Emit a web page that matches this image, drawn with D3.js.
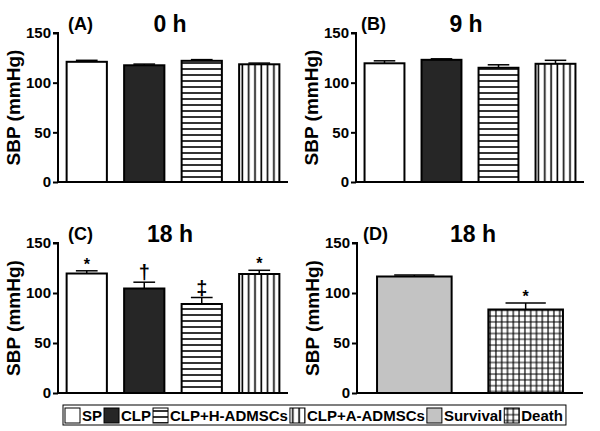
<!DOCTYPE html>
<html><head><meta charset="utf-8">
<script src="https://cdn.jsdelivr.net/npm/d3@7"></script>
<style>
body{margin:0;background:#fff;}
svg{display:block;font-family:"Liberation Sans",Arial,sans-serif;font-weight:bold;}
</style></head><body>
<svg id="chart" width="600" height="431"></svg>
<script>
// ---- data ----
const groups = ["SP","CLP","CLP+H-ADMSCs","CLP+A-ADMSCs"];
const outcomeGroups = ["Survival","Death"];
const valuesA = [121, 117.5, 122, 118.5];
const errA    = [1.5, 1.2, 1.2, 1.2];
const valuesB = [119.5, 123, 115, 119];
const errB    = [2.5, 1, 3, 3.5];
const valuesC = [119.5, 104.5, 89, 119];
const errC    = [2.7, 6.3, 6.5, 3.7];
const marksC  = ["*","†","‡","*"];
const valuesD = [116.5, 83.5];
const errD    = [1.5, 6.5];
const marksD  = ["", "*"];
const yTicks = [0, 50, 100, 150];
const panelLetters = ["(A)","(B)","(C)","(D)"];
const panelTimes = ["0 h","9 h","18 h","18 h"];
const legendItems = ["SP","CLP","CLP+H-ADMSCs","CLP+A-ADMSCs","Survival","Death"];
const yLabel = "SBP (mmHg)";

const svg = d3.select("#chart");
const defs = svg.append("defs");
// patterns
const ph = defs.append("pattern").attr("id","hstripe").attr("patternUnits","userSpaceOnUse")
  .attr("width",8).attr("height",6);
ph.append("rect").attr("width",8).attr("height",6).attr("fill","#fff");
ph.append("line").attr("x1",0).attr("x2",8).attr("y1",3).attr("y2",3).attr("stroke","#000").attr("stroke-width",1.6);
const pv = defs.append("pattern").attr("id","vstripe").attr("patternUnits","userSpaceOnUse")
  .attr("width",6.3).attr("height",8);
pv.append("rect").attr("width",6.3).attr("height",8).attr("fill","#fff");
pv.append("line").attr("x1",3).attr("x2",3).attr("y1",0).attr("y2",8).attr("stroke","#000").attr("stroke-width",1.6);
const pg = defs.append("pattern").attr("id","grid").attr("patternUnits","userSpaceOnUse")
  .attr("width",5.8).attr("height",5.8);
pg.append("rect").attr("width",5.8).attr("height",5.8).attr("fill","#fff");
pg.append("path").attr("d","M2.9,0V5.8M0,2.9H5.8").attr("stroke","#000").attr("stroke-width",1.2);

const fills = {"SP":"#fff","CLP":"#262626","CLP+H-ADMSCs":"url(#hstripe)","CLP+A-ADMSCs":"url(#vstripe)","Survival":"#c3c3c3","Death":"url(#grid)"};

function panel(cfg){
  const {x0,x1,yTop,yBot,cats,vals,errs,marks,letter,time,letterX,timeX,pi,po} = cfg;
  const g = svg.append("g");
  const y = d3.scaleLinear().domain([0,150]).range([yBot,yTop]);
  const x = d3.scaleBand().domain(cats).range([x0,x1]).paddingInner(pi).paddingOuter(po);
  // bars
  cats.forEach((c,i)=>{
    g.append("rect").attr("x",x(c)).attr("y",y(vals[i])).attr("width",x.bandwidth())
      .attr("height",y(0)-y(vals[i])).attr("fill",fills[c]).attr("stroke","#000").attr("stroke-width",2);
    const cx = x(c)+x.bandwidth()/2, cw = x.bandwidth()*0.27;
    const et = y(vals[i]+errs[i]);
    g.append("line").attr("x1",cx).attr("x2",cx).attr("y1",y(vals[i])).attr("y2",et).attr("stroke","#000").attr("stroke-width",1.5);
    g.append("line").attr("x1",cx-cw).attr("x2",cx+cw).attr("y1",et).attr("y2",et).attr("stroke","#000").attr("stroke-width",1.5);
    if(marks && marks[i]){
      const m = marks[i];
      g.append("text").attr("x",cx).attr("y", m==="*" ? et-1 : et-3).attr("text-anchor","middle")
        .attr("font-size", m==="*"?16:20).text(m);
    }
  });
  // axes
  const ya = g.append("g").attr("transform",`translate(${x0},0)`)
    .call(d3.axisLeft(y).tickValues(yTicks).tickSize(5).tickPadding(2));
  ya.attr("font-size",15).attr("font-family","Liberation Sans, Arial, sans-serif");
  ya.select(".domain").attr("stroke-width",2).attr("d",`M-5,${yTop}H0V${yBot}`);
  ya.selectAll(".tick line").attr("stroke-width",2);
  ya.selectAll(".tick text").style("font-size","15px").style("font-weight","bold").attr("fill","#000");
  g.append("line").attr("x1",x0-1).attr("x2",x1).attr("y1",yBot).attr("y2",yBot).attr("stroke","#000").attr("stroke-width",2);
  // titles
  g.append("text").attr("x",letterX).attr("y",yTop-3).attr("font-size",18).text(letter);
  g.append("text").attr("x",timeX).attr("y",yTop-1).attr("text-anchor","middle").attr("font-size",23).text(time);
  // y label
  g.append("text").attr("transform",`translate(${x0-38},${(yTop+yBot)/2}) rotate(-90)`)
    .attr("text-anchor","middle").attr("font-size",19).text(yLabel);
}

panel({x0:58,x1:288,yTop:33,yBot:182,cats:groups,vals:valuesA,errs:errA,marks:null,letter:panelLetters[0],time:panelTimes[0],letterX:68,timeX:170,pi:0.3,po:0.15});
panel({x0:356,x1:584,yTop:33,yBot:182,cats:groups,vals:valuesB,errs:errB,marks:null,letter:panelLetters[1],time:panelTimes[1],letterX:361,timeX:466,pi:0.3,po:0.15});
panel({x0:58,x1:288,yTop:243,yBot:393,cats:groups,vals:valuesC,errs:errC,marks:marksC,letter:panelLetters[2],time:panelTimes[2],letterX:68,timeX:170,pi:0.3,po:0.15});
panel({x0:357,x1:583,yTop:243,yBot:393,cats:outcomeGroups,vals:valuesD,errs:errD,marks:marksD,letter:panelLetters[3],time:panelTimes[3],letterX:363,timeX:473,pi:0.33,po:0.18});

// legend
const lg = svg.append("g");
const box = lg.append("rect").attr("x",63).attr("y",405).attr("height",20).attr("fill","#fff").attr("stroke","#000").attr("stroke-width",1);
let cx = 65;
legendItems.forEach((name,i)=>{
  lg.append("rect").attr("x",cx).attr("y",408).attr("width",15).attr("height",15)
    .attr("fill",fills[name]).attr("stroke","#000").attr("stroke-width",1);
  const t = lg.append("text").attr("x",cx+17).attr("y",421).attr("font-size",15).text(name);
  cx += 17 + t.node().getComputedTextLength() + 2;
});
box.attr("width",Math.max(cx-63+1, 0));
</script>
</body></html>
